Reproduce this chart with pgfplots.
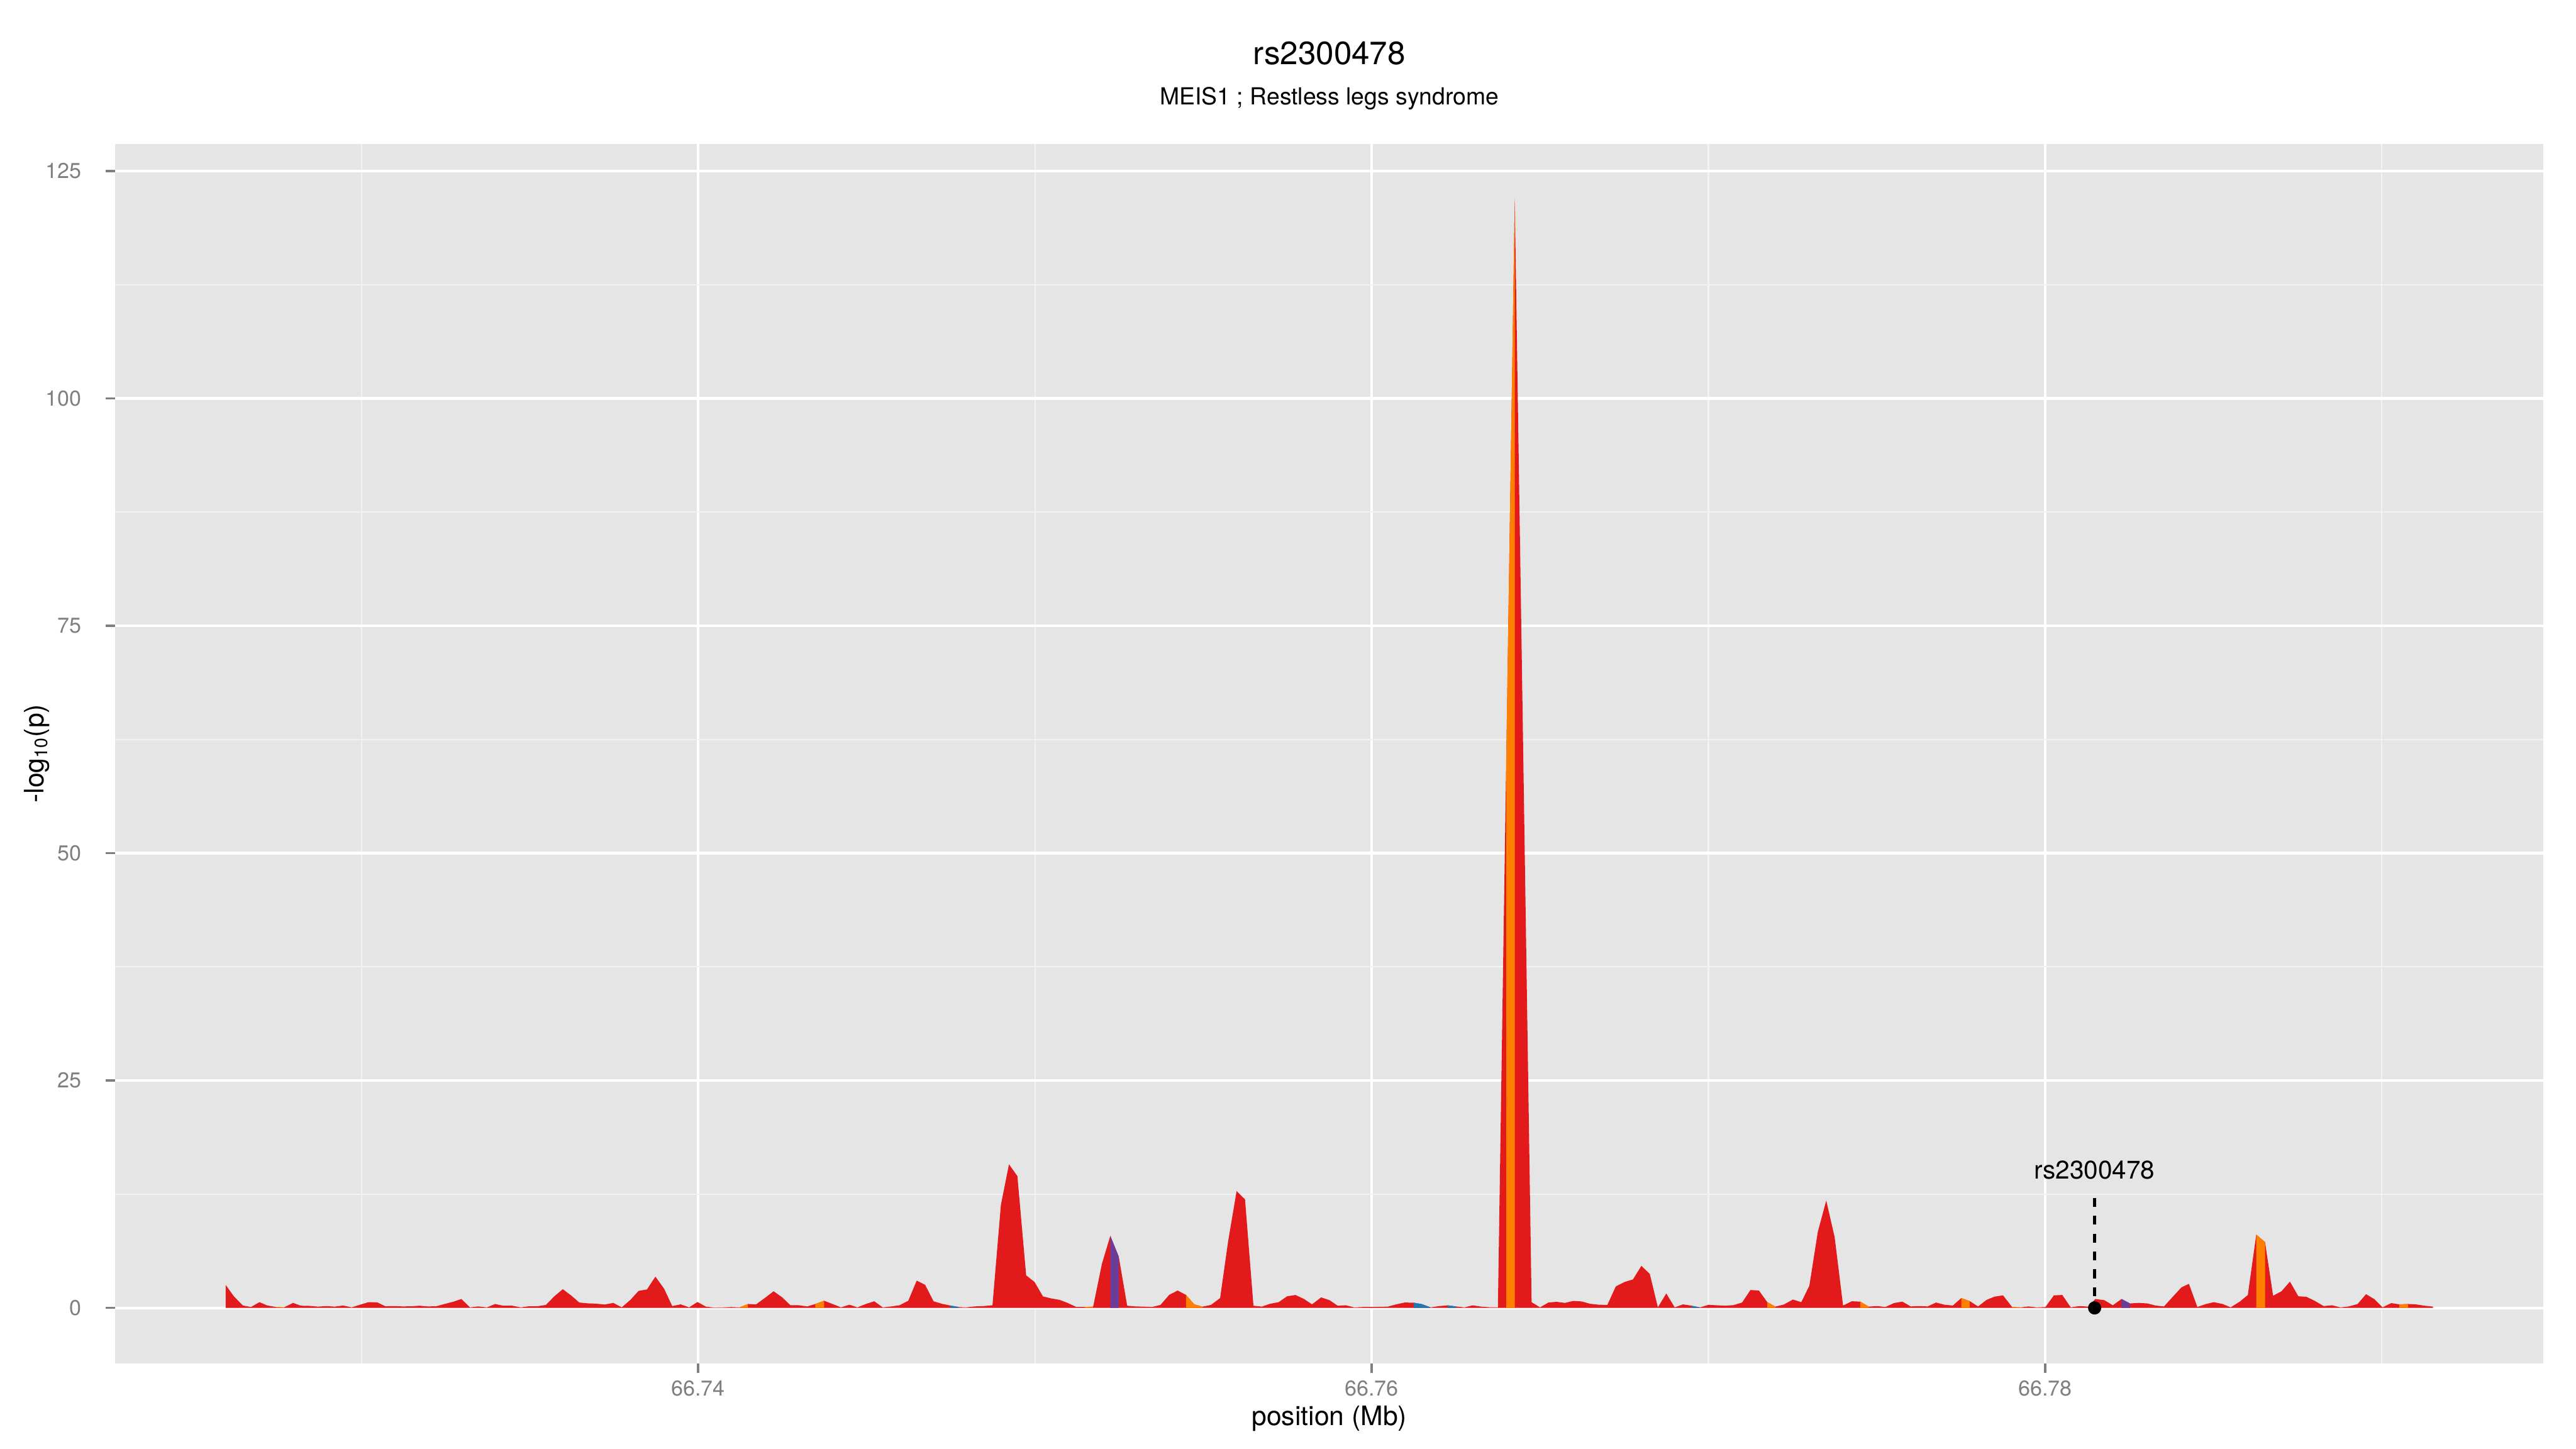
\documentclass[border=0pt]{standalone}
\usepackage{fontspec}
\setmainfont{TeX Gyre Heros}
\usepackage{pgfplots}
\pgfplotsset{compat=1.18}
\usepackage{pgfplotstable}
\definecolor{pred}{HTML}{E31A1C}
\definecolor{porange}{HTML}{FF7F00}
\definecolor{ppurple}{HTML}{6A3D9A}
\definecolor{pblue}{HTML}{1F78B4}
\definecolor{panelbg}{HTML}{E5E5E5}
\definecolor{minorgrid}{HTML}{F2F2F2}
\definecolor{ticklab}{HTML}{7F7F7F}

\pgfplotstableread{
x y
66.72597 0
66.72597 2.52
66.72621 1.28
66.72648 0.26
66.72672 0.10
66.72697 0.63
66.72721 0.26
66.72746 0.10
66.72770 0.06
66.72797 0.55
66.72820 0.24
66.72845 0.22
66.72871 0.14
66.72896 0.20
66.72920 0.14
66.72946 0.26
66.72971 0.06
66.72996 0.35
66.73021 0.63
66.73047 0.61
66.73071 0.18
66.73098 0.20
66.73123 0.16
66.73148 0.18
66.73172 0.24
66.73197 0.16
66.73222 0.18
66.73247 0.43
66.73272 0.67
66.73297 0.98
66.73322 0.06
66.73347 0.16
66.73373 0.06
66.73397 0.43
66.73421 0.24
66.73448 0.24
66.73473 0.06
66.73498 0.18
66.73522 0.18
66.73548 0.33
66.73573 1.28
66.73598 2.06
66.73623 1.36
66.73647 0.59
66.73672 0.50
66.73696 0.47
66.73722 0.37
66.73748 0.55
66.73773 0.06
66.73799 0.89
66.73823 1.87
66.73848 2.03
66.73873 3.44
66.73899 2.10
66.73923 0.20
66.73948 0.39
66.73973 0.06
66.73998 0.65
66.74023 0.14
66.74048 0.04
66.74073 0.06
66.74098 0.10
66.74123 0.06
66.74148 0.43
66.74172 0.39
66.74199 1.12
66.74224 1.83
66.74249 1.18
66.74274 0.29
66.74299 0.29
66.74324 0.16
66.74348 0.43
66.74374 0.79
66.74399 0.43
66.74424 0.06
66.74449 0.35
66.74473 0.06
66.74498 0.43
66.74523 0.73
66.74548 0.06
66.74573 0.16
66.74598 0.29
66.74624 0.79
66.74649 3.00
66.74674 2.54
66.74699 0.73
66.74724 0.45
66.74749 0.26
66.74774 0.10
66.74795 0.06
66.74820 0.16
66.74847 0.20
66.74874 0.29
66.74899 11.31
66.74923 15.79
66.74948 14.49
66.74974 3.58
66.74999 2.85
66.75024 1.26
66.75049 1.04
66.75074 0.88
66.75098 0.53
66.75123 0.10
66.75148 0.10
66.75173 0.14
66.75199 4.85
66.75224 7.92
66.75249 5.64
66.75274 0.24
66.75298 0.16
66.75323 0.14
66.75348 0.10
66.75373 0.33
66.75399 1.44
66.75424 1.91
66.75449 1.42
66.75473 0.39
66.75498 0.14
66.75523 0.33
66.75550 1.08
66.75574 7.37
66.75599 12.84
66.75624 11.93
66.75649 0.24
66.75674 0.14
66.75698 0.45
66.75724 0.63
66.75749 1.28
66.75774 1.42
66.75799 0.98
66.75823 0.39
66.75850 1.16
66.75875 0.85
66.75899 0.24
66.75923 0.29
66.75948 0.06
66.75973 0.10
66.75998 0.10
66.76023 0.12
66.76048 0.14
66.76073 0.39
66.76098 0.59
66.76125 0.57
66.76148 0.43
66.76175 0.06
66.76201 0.20
66.76226 0.28
66.76251 0.16
66.76276 0.06
66.76300 0.28
66.76325 0.14
66.76350 0.08
66.76375 0.08
66.76400 61.0
66.76425 121.9
66.76450 61.3
66.76475 0.63
66.76500 0.06
66.76525 0.59
66.76549 0.67
66.76574 0.55
66.76599 0.77
66.76624 0.71
66.76649 0.45
66.76674 0.35
66.76700 0.33
66.76725 2.36
66.76751 2.85
66.76776 3.13
66.76801 4.62
66.76826 3.74
66.76850 0.06
66.76875 1.59
66.76900 0.06
66.76925 0.39
66.76950 0.24
66.76975 0.06
66.77000 0.33
66.77025 0.29
66.77050 0.24
66.77075 0.31
66.77100 0.59
66.77125 1.97
66.77150 1.91
66.77175 0.63
66.77199 0.14
66.77224 0.37
66.77251 0.92
66.77276 0.63
66.77300 2.46
66.77325 8.36
66.77350 11.80
66.77375 7.77
66.77400 0.26
66.77426 0.73
66.77451 0.69
66.77476 0.14
66.77501 0.20
66.77526 0.10
66.77551 0.53
66.77576 0.69
66.77601 0.16
66.77626 0.20
66.77651 0.16
66.77676 0.59
66.77701 0.35
66.77726 0.26
66.77751 1.08
66.77776 0.75
66.77801 0.16
66.77826 0.88
66.77850 1.24
66.77875 1.38
66.77902 0.10
66.77927 0.06
66.77951 0.16
66.77976 0.06
66.78001 0.10
66.78026 1.38
66.78051 1.42
66.78076 0.06
66.78102 0.20
66.78128 0.14
66.78149 0.98
66.78176 0.85
66.78201 0.29
66.78227 0.98
66.78252 0.49
66.78278 0.55
66.78304 0.49
66.78328 0.26
66.78353 0.16
66.78379 1.22
66.78405 2.26
66.78427 2.65
66.78452 0.10
66.78478 0.43
66.78501 0.63
66.78527 0.43
66.78551 0.06
66.78578 0.69
66.78602 1.42
66.78627 8.06
66.78653 7.24
66.78677 1.34
66.78702 1.83
66.78727 2.89
66.78752 1.28
66.78776 1.22
66.78801 0.77
66.78827 0.20
66.78852 0.29
66.78877 0.06
66.78902 0.16
66.78928 0.43
66.78953 1.51
66.78977 0.98
66.79002 0.06
66.79028 0.53
66.79052 0.39
66.79078 0.43
66.79101 0.39
66.79127 0.24
66.79152 0.14
66.79152 0
}\assoc

\begin{document}
\begin{tikzpicture}
\path[use as bounding box] (0,0) rectangle (1152pt,648pt);
\begin{axis}[
  at={(51.55pt,38.3pt)}, anchor=south west,
  scale only axis, width=1085.95pt, height=545.4pt,
  xmin=66.72269, xmax=66.79480, ymin=-6.095, ymax=127.995,
  axis background/.style={fill=panelbg},
  axis line style={draw=none},
  xtick={66.74,66.76,66.78}, xticklabels={66.74,66.76,66.78},
  minor xtick={66.73,66.75,66.77,66.79},
  ytick={0,25,50,75,100,125}, yticklabels={0,25,50,75,100,125},
  minor ytick={12.5,37.5,62.5,87.5,112.5},
  grid=both,
  major grid style={white, line width=1.2pt},
  minor grid style={minorgrid, line width=0.6pt},
  tick align=outside, xtick pos=bottom, ytick pos=left,
  major tick length=4.25pt, minor tick length=0pt,
  major tick style={ticklab, line width=1pt},
  tick label style={font=\fontsize{9.6}{11}\selectfont, text=ticklab},
  xticklabel style={anchor=base, yshift=-10.3pt},
  yticklabel style={anchor=east, xshift=-7.45pt},
]
\addplot[fill=pred, draw=none] table[x=x,y=y] {\assoc};
% orange
\addplot[fill=porange, draw=none] coordinates {(66.72746,0)(66.72746,0.10)(66.72770,0.06)(66.72770,0)};
\addplot[fill=porange, draw=none] coordinates {(66.74123,0)(66.74123,0.06)(66.74148,0.43)(66.74148,0)};
\addplot[fill=porange, draw=none] coordinates {(66.74348,0)(66.74348,0.43)(66.74374,0.79)(66.74374,0)};
\addplot[fill=porange, draw=none] coordinates {(66.75148,0)(66.75148,0.10)(66.75173,0.14)(66.75173,0)};
\addplot[fill=porange, draw=none] coordinates {(66.75449,0)(66.75449,1.42)(66.75473,0.39)(66.75498,0.14)(66.75498,0)};
\addplot[fill=porange, draw=none] coordinates {(66.76400,0)(66.76400,61.0)(66.76425,121.9)(66.76425,0)};
\addplot[fill=porange, draw=none] coordinates {(66.77175,0)(66.77175,0.63)(66.77199,0.14)(66.77199,0)};
\addplot[fill=porange, draw=none] coordinates {(66.77451,0)(66.77451,0.69)(66.77476,0.14)(66.77476,0)};
\addplot[fill=porange, draw=none] coordinates {(66.77751,0)(66.77751,1.08)(66.77776,0.75)(66.77776,0)};
\addplot[fill=porange, draw=none] coordinates {(66.77902,0)(66.77902,0.10)(66.77927,0.06)(66.77927,0)};
\addplot[fill=porange, draw=none] coordinates {(66.78627,0)(66.78627,8.06)(66.78653,7.24)(66.78653,0)};
\addplot[fill=porange, draw=none] coordinates {(66.79052,0)(66.79052,0.39)(66.79078,0.43)(66.79078,0)};
% purple
\addplot[fill=ppurple, draw=none] coordinates {(66.75224,0)(66.75224,7.92)(66.75249,5.64)(66.75249,0)};
\addplot[fill=ppurple, draw=none] coordinates {(66.78227,0)(66.78227,0.98)(66.78252,0.49)(66.78252,0)};
% blue
\addplot[fill=pblue, draw=none] coordinates {(66.74749,0)(66.74749,0.26)(66.74774,0.10)(66.74774,0)};
\addplot[fill=pblue, draw=none] coordinates {(66.76125,0)(66.76125,0.57)(66.76148,0.43)(66.76175,0.06)(66.76175,0)};
\addplot[fill=pblue, draw=none] coordinates {(66.76226,0)(66.76226,0.28)(66.76251,0.16)(66.76251,0)};
\addplot[fill=pblue, draw=none] coordinates {(66.76950,0)(66.76950,0.24)(66.76975,0.06)(66.76975,0)};
% lead SNP marker
\addplot[black, line width=1.2pt, dash pattern=on 4pt off 4pt] coordinates {(66.78147,12.1) (66.78147,0)};
\addplot[only marks, mark=*, mark size=2.75pt, black] coordinates {(66.78147,0)};
\node[anchor=base, font=\fontsize{11.4}{13}\selectfont] at (axis cs:66.78147,14.18) {rs2300478};
\end{axis}
\node[anchor=base, font=\fontsize{14.4}{17}\selectfont] at (594.5pt,619.2pt) {rs2300478};
\node[anchor=base, font=\fontsize{10.5}{12}\selectfont] at (594.5pt,601.3pt) {MEIS1 ; Restless legs syndrome};
\node[anchor=base, font=\fontsize{12}{14}\selectfont] at (594.5pt,10.5pt) {position (Mb)};
\node[rotate=90, font=\fontsize{12}{14}\selectfont] at (16.5pt,311pt) {-log\textsubscript{10}(p)};
\end{tikzpicture}
\end{document}
